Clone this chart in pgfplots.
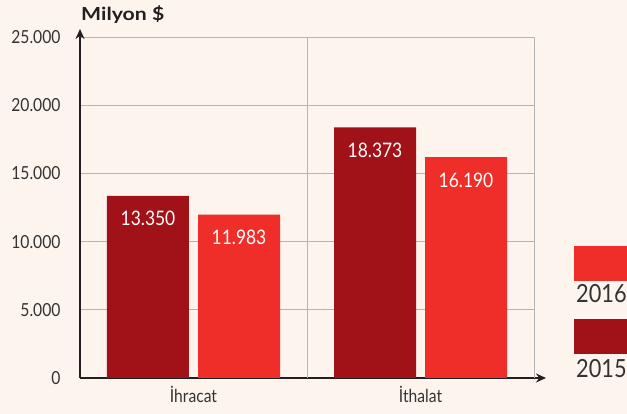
\documentclass[border=0pt]{standalone}
\usepackage{pgfplots}
\pgfplotsset{compat=1.18}
\usepackage{fontspec}
\setmainfont{Lato}[FakeStretch=0.87]
\newfontfamily\titlef{Lato}[FakeStretch=1.18]
\usetikzlibrary{arrows.meta}
\definecolor{bgc}{HTML}{FDF4EE}
\definecolor{cA}{HTML}{A11218}
\definecolor{cB}{HTML}{EF2E2A}
\definecolor{gridc}{HTML}{B4B4B4}
\definecolor{axc}{HTML}{231F20}
\definecolor{labc}{HTML}{333333}
\begin{document}
\begin{tikzpicture}[x=1pt,y=1pt]
\fill[bgc] (0,0) rectangle (627,414);
\begin{axis}[
  at={(80pt,36pt)}, anchor=south west, scale only axis,
  width=454pt, height=341pt,
  xmin=0, xmax=2, ymin=0, ymax=25000,
  axis lines=left,
  axis line style={line width=1.6pt, color=axc},
  x axis line style={-{Stealth[length=10pt,width=9pt]}, shorten >=-12pt},
  y axis line style={-{Stealth[length=10pt,width=9pt]}, shorten >=-8pt},
  ytick={0,5000,10000,15000,20000,25000},
  scaled y ticks=false,
  /pgf/number format/.cd, 1000 sep={.}, assume math mode=true, /pgfplots/.cd,
  ymajorgrids, grid style={color=gridc, line width=0.9pt},
  xtick={0.5,1.5}, xticklabels={İhracat, İthalat},
  extra x ticks={1,2}, extra x tick labels={},
  extra x tick style={grid=major},
  major tick length=0pt, tick style={draw=none},
  yticklabel style={font=\fontsize{18}{18}\selectfont, text=labc, xshift=-16pt},
  xticklabel style={font=\fontsize{18}{18}\selectfont, text=labc, yshift=-5pt},
  ybar=9pt, bar width=82pt,
  nodes near coords,
  nodes near coords style={anchor=north, yshift=-12pt, text=white, font=\fontsize{20}{20}\selectfont},
]
\addplot[fill=cA, draw=none] coordinates {(0.5,13350) (1.5,18373)};
\addplot[fill=cB, draw=none] coordinates {(0.5,11983) (1.5,16190)};
\end{axis}
\node[anchor=west, inner sep=0pt, font=\titlef\bfseries\fontsize{18}{18}\selectfont, text=axc] at (81,399) {Milyon \$};
\fill[cB] (574,133) rectangle (627,168);
\node[anchor=west, inner sep=0pt, font=\fontsize{25}{25}\selectfont, text=labc] at (576,120) {2016};
\fill[cA] (574,60) rectangle (627,95);
\node[anchor=west, inner sep=0pt, font=\fontsize{25}{25}\selectfont, text=labc] at (576,45) {2015};
\pgfresetboundingbox
\path[use as bounding box] (0,0) rectangle (627,414);
\end{tikzpicture}
\end{document}
